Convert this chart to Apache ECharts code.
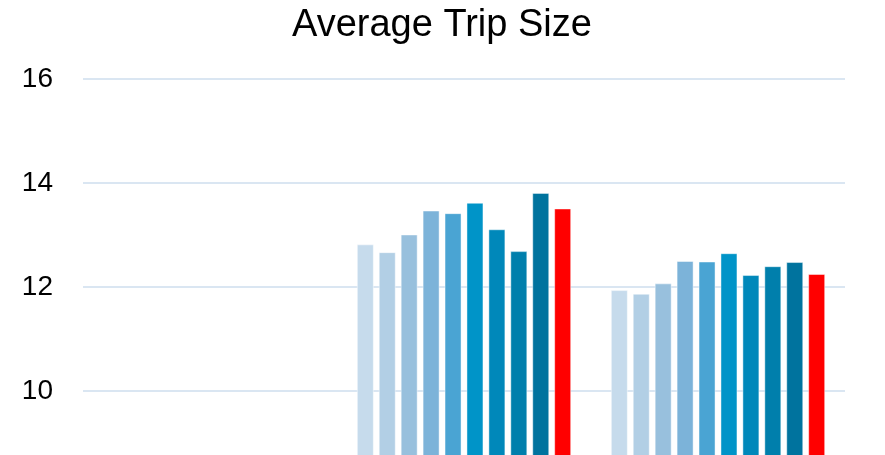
<!DOCTYPE html>
<html>
<head>
<meta charset="utf-8">
<style>
  html, body { margin: 0; padding: 0; background: #ffffff; overflow: hidden; width: 885px; height: 455px; }
  /* The drawing area is taller than the window: the plot continues below the visible edge */
  #chart { width: 885px; height: 540px; }
</style>
<script src="https://cdn.jsdelivr.net/npm/echarts@6/dist/echarts.min.js"></script>
</head>
<body>
<div id="chart"></div>
<script>
// Categories along the x axis (the first group has no data)
const categories = ['Segment A', 'Segment B', 'Segment C'];

// One series per period; the last one (red) is the current period
const seriesNames = ['P1', 'P2', 'P3', 'P4', 'P5', 'P6', 'P7', 'P8', 'P9', 'Current'];
const seriesColors = ['#c6dbec', '#b2cfe5', '#98c0dd', '#7cb3d9', '#4aa4d3', '#0094c8', '#0088ba', '#007fac', '#00739e', '#ff0000'];

// Average trip size per series, for each category
const valuesSegmentA = [null, null, null, null, null, null, null, null, null, null];
const valuesSegmentB = [12.82, 12.67, 13.01, 13.47, 13.42, 13.62, 13.11, 12.69, 13.81, 13.51];
const valuesSegmentC = [11.94, 11.87, 12.07, 12.50, 12.49, 12.65, 12.23, 12.40, 12.48, 12.25];

// Value axis range and ticks
const yMin = 8;
const yMax = 16;
const yStep = 2;

const series = seriesNames.map((name, i) => ({
  name: name,
  type: 'bar',
  barWidth: 17,
  barGap: '29%',
  data: [valuesSegmentA[i], valuesSegmentB[i], valuesSegmentC[i]],
  itemStyle: {
    color: seriesColors[i],
    borderColor: 'rgba(255,255,255,0.45)',
    borderWidth: 1
  },
  emphasis: { disabled: true }
}));

const chart = echarts.init(document.getElementById('chart'), null, { renderer: 'canvas' });
chart.setOption({
  animation: false,
  backgroundColor: '#ffffff',
  title: {
    text: 'Average Trip Size',
    left: 287,
    top: 2,
    textStyle: {
      fontFamily: 'Liberation Sans, Arial, sans-serif',
      fontSize: 38,
      fontWeight: 'normal',
      color: '#000000'
    }
  },
  grid: {
    left: 83,
    width: 762,
    top: 79,
    height: 416,
    containLabel: false,
    outerBoundsMode: 'none'
  },
  xAxis: {
    type: 'category',
    data: categories,
    axisTick: { show: false },
    axisLine: { show: false },
    axisLabel: { show: false }
  },
  yAxis: {
    type: 'value',
    min: yMin,
    max: yMax,
    interval: yStep,
    axisLine: { show: false },
    axisTick: { show: false },
    axisLabel: {
      margin: 30,
      fontFamily: 'Liberation Sans, Arial, sans-serif',
      fontSize: 28,
      color: '#000000'
    },
    splitLine: {
      lineStyle: { color: '#dae6f2', width: 2 }
    }
  },
  series: series
});
</script>
</body>
</html>
